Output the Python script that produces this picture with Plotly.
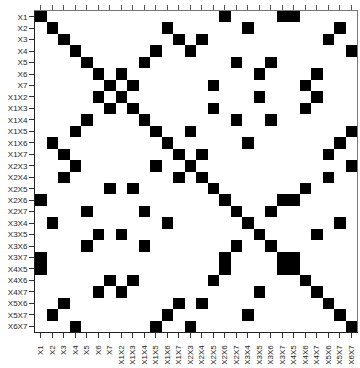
import plotly.graph_objects as go

# Model terms: main effects followed by two-factor interactions
terms = ["X1", "X2", "X3", "X4", "X5", "X6", "X7",
         "X1X2", "X1X3", "X1X4", "X1X5", "X1X6", "X1X7",
         "X2X3", "X2X4", "X2X5", "X2X6", "X2X7",
         "X3X4", "X3X5", "X3X6", "X3X7",
         "X4X5", "X4X6", "X4X7",
         "X5X6", "X5X7", "X6X7"]

# Alias group of each term (terms in the same group are confounded)
alias_group = [1, 2, 3, 4, 5, 6, 7,
               6, 7, 5, 4, 2, 3,
               4, 3, 7, 1, 5,
               2, 6, 5, 1,
               1, 7, 6,
               3, 2, 4]

# 1 where row term and column term are aliased
z = [[1 if gi == gj else 0 for gj in alias_group] for gi in alias_group]

n = len(terms)
fig = go.Figure()
fig.add_trace(go.Heatmap(
    z=z, x=terms, y=terms,
    colorscale=[[0, "white"], [1, "black"]],
    zmin=0, zmax=1, showscale=False, hoverinfo="skip",
))

tick_font = dict(family="Liberation Sans, Arial, sans-serif", size=8, color="#222222")

fig.update_layout(
    width=360, height=368,
    margin=dict(l=35, r=3, t=11, b=34),
    paper_bgcolor="white", plot_bgcolor="white",
    showlegend=False,
    xaxis=dict(
        type="category", categoryorder="array", categoryarray=terms,
        range=[-0.5, n - 0.5], tickangle=-90,
        ticks="outside", ticklen=5, tickwidth=1, tickcolor="#333333",
        ticklabelstandoff=4,
        showline=True, linecolor="#222222", linewidth=1,
        showgrid=False, zeroline=False, tickfont=tick_font,
    ),
    xaxis2=dict(
        overlaying="x", side="top", range=[-0.5, n - 0.5],
        tickmode="array", tickvals=list(range(n)), showticklabels=False,
        ticks="outside", ticklen=5, tickwidth=1, tickcolor="#555555",
        showline=True, linecolor="#777777", linewidth=1,
        showgrid=False, zeroline=False,
    ),
    yaxis=dict(
        type="category", categoryorder="array", categoryarray=terms,
        range=[n - 0.5, -0.5],
        ticks="outside", ticklen=5, tickwidth=1, tickcolor="#333333",
        showline=True, linecolor="#222222", linewidth=1, mirror=False,
        showgrid=False, zeroline=False, tickfont=tick_font,
    ),
    yaxis2=dict(
        overlaying="y", side="right", range=[n - 0.5, -0.5],
        showticklabels=False, ticks="",
        showline=True, linecolor="#777777", linewidth=1,
        showgrid=False, zeroline=False,
    ),
)

# Invisible trace so the top and right frame axes are rendered
fig.add_trace(go.Scatter(x=[0], y=[0], xaxis="x2", yaxis="y2",
                         mode="markers", marker=dict(opacity=0),
                         hoverinfo="skip", showlegend=False))

fig.write_html("out.html")
